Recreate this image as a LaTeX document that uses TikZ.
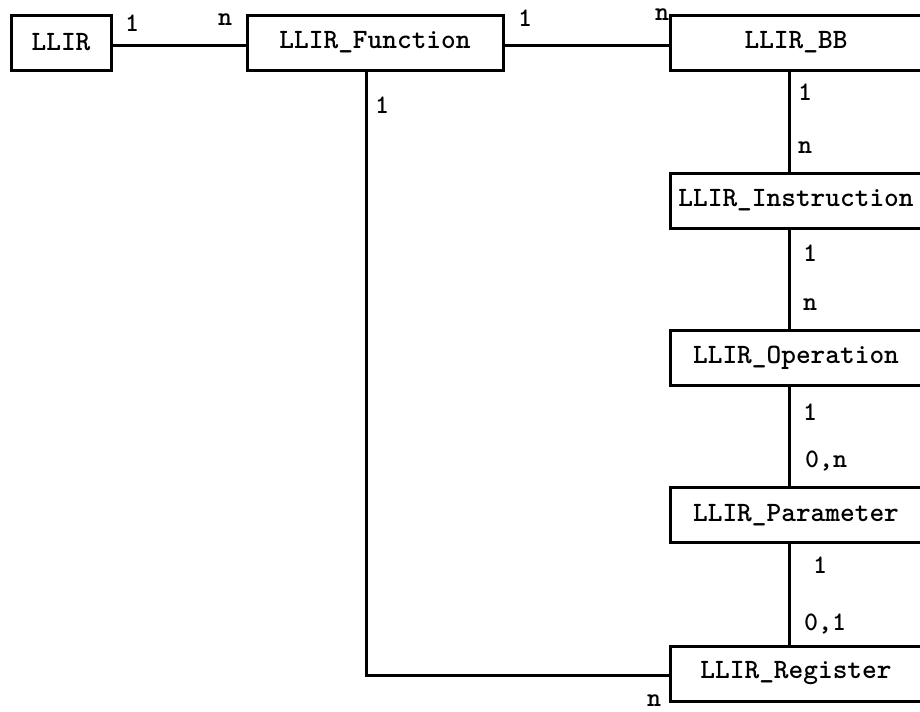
\documentclass[tikz,border=0pt]{standalone}
\usepackage{fontspec}
\usetikzlibrary{positioning}
\tikzset{every picture/.style={line width=2.25pt}}
\tikzset{
  erbox/.style  ={rectangle, draw=black, fill=white, minimum height=41.25pt,
                  inner sep=0pt, font=\fontsize{21}{23}\selectfont\ttfamily\bfseries},
  ercard/.style ={inner sep=0pt, font=\fontsize{20}{22}\selectfont\ttfamily\bfseries},
  erlink/.style ={black, line width=2.25pt},
}

\begin{document}
\begin{tikzpicture}[x=0.75pt, y=-0.75pt]
        \useasboundingbox (0,0) rectangle (920,711);
        \clip (0,0) rectangle (920,711);
        % top row
        \node[erbox, minimum width=75pt] (llir) at (61,42.5) {LLIR};
        \node[erbox, minimum width=192pt] (fun) at (375,42.5) {LLIR\_Function};
        \node[erbox, minimum width=189pt] (bb) at (796,42.5) {LLIR\_BB};
        % right column
        \node[erbox, minimum width=189pt] (ins) at (796,200.5) {LLIR\_Instruction};
        \node[erbox, minimum width=189pt] (op) at (796,357.5) {LLIR\_Operation};
        \node[erbox, minimum width=189pt] (par) at (796,515) {LLIR\_Parameter};
        \node[erbox, minimum width=189pt] (reg) at (796,673.5) {LLIR\_Register};
        % links
        \coordinate (hy) at (0,45);
        \coordinate (vx) at (789,0);
        \coordinate (fx) at (366,0);
        \coordinate (ry) at (0,675);
        \draw[erlink] (llir.east |- hy) -- (fun.west |- hy);
        \draw[erlink] (fun.east |- hy) -- (bb.west |- hy);
        \draw[erlink] (bb.south -| vx) -- (ins.north -| vx);
        \draw[erlink] (ins.south -| vx) -- (op.north -| vx);
        \draw[erlink] (op.south -| vx) -- (par.north -| vx);
        \draw[erlink] (par.south -| vx) -- (reg.north -| vx);
        \draw[erlink] (fun.south -| fx) |- (reg.west |- ry);
        % cardinalities
        \node[ercard] (c1) at (132,23) {1};
        \node[ercard] (c2) at (225,20) {n};
        \node[ercard] (c3) at (525,18) {1};
        \node[ercard] (c4) at (662,15) {n};
        \node[ercard] (c5) at (382,105) {1};
        \node[ercard] (c6) at (805,92) {1};
        \node[ercard] (c7) at (805,148) {n};
        \node[ercard] (c8) at (810,253) {1};
        \node[ercard] (c9) at (810,305) {n};
        \node[ercard] (c10) at (810,412) {1};
        \node[ercard] (c11) at (826,461) {0,n};
        \node[ercard] (c12) at (820,565) {1};
        \node[ercard] (c13) at (825,624) {0,1};
        \node[ercard] (c14) at (654,701) {n};
    \end{tikzpicture}
\end{document}
